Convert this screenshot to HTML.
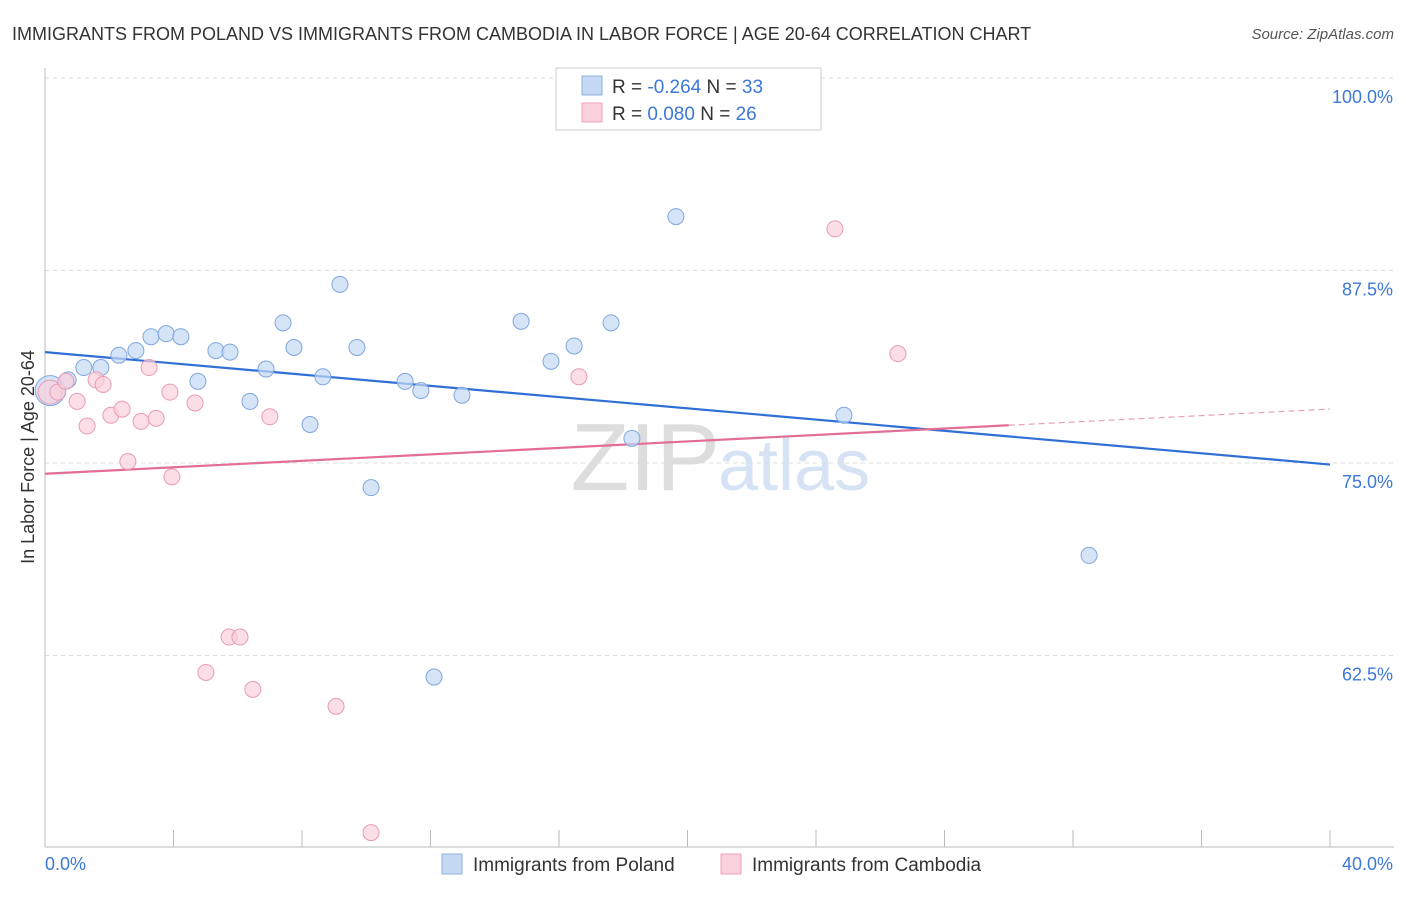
<!DOCTYPE html>
<html><head><meta charset="utf-8"><style>
body{margin:0;background:#fff;font-family:"Liberation Sans",sans-serif;}
svg text{font-family:"Liberation Sans",sans-serif;}
</style></head><body>
<svg id="chart" width="1406" height="892" viewBox="0 0 1406 892">
<text x="12" y="40" font-size="18" fill="#333">IMMIGRANTS FROM POLAND VS IMMIGRANTS FROM CAMBODIA IN LABOR FORCE | AGE 20-64 CORRELATION CHART</text>
<text x="1394" y="39" font-size="15" fill="#555" font-style="italic" text-anchor="end">Source: ZipAtlas.com</text>
<text x="720" y="490" font-size="96" fill="#ddd" text-anchor="end" font-family="Liberation Serif">ZIP</text>
<text x="718" y="490" font-size="72" fill="#d6e3f5">atlas</text>
<g id="grid"></g><g id="axes"></g><g id="lines"></g><g id="pts"></g>
<text transform="translate(34,457) rotate(-90)" font-size="18" fill="#333" text-anchor="middle">In Labor Force | Age 20-64</text>
<g>
<rect x="556" y="68" width="265" height="62" fill="#fff" stroke="#ccc"/>
<rect x="582" y="76" width="20" height="19" fill="#c5d9f5" stroke="#8fb1e3"/>
<text x="612" y="93" font-size="19" fill="#333">R = <tspan fill="#3c78d8">-0.264</tspan>   N = <tspan fill="#3c78d8">33</tspan></text>
<rect x="582" y="103" width="20" height="19" fill="#fad0dc" stroke="#eea4ba"/>
<text x="612" y="120" font-size="19" fill="#333">R =  <tspan fill="#3c78d8">0.080</tspan>   N = <tspan fill="#3c78d8">26</tspan></text>
</g>
<g>
<rect x="442" y="854" width="20" height="20" fill="#c5d9f5" stroke="#8fb1e3"/>
<text x="473" y="871" font-size="19" fill="#333">Immigrants from Poland</text>
<rect x="721" y="854" width="20" height="20" fill="#fad0dc" stroke="#eea4ba"/>
<text x="752" y="871" font-size="19" fill="#333">Immigrants from Cambodia</text>
</g>
</svg>
<script>
const polandX=[0.16,0.72,1.21,1.74,2.30,2.83,3.30,3.77,4.23,4.76,5.32,5.76,6.38,6.88,7.41,7.75,8.25,8.65,9.18,9.71,10.15,11.21,11.70,12.11,12.98,14.82,15.75,16.47,17.62,18.27,19.64,24.87,32.50];
const polandY=[79.7,80.4,81.2,81.2,82.0,82.3,83.2,83.4,83.2,80.3,82.3,82.2,79.0,81.1,84.1,82.5,77.5,80.6,86.6,82.5,73.4,80.3,79.7,61.1,79.4,84.2,81.6,82.6,84.1,76.6,91.0,78.1,69.0];
const cambX=[0.16,0.40,0.65,1.0,1.31,1.59,1.81,2.05,2.40,2.58,2.99,3.24,3.46,3.89,3.95,4.67,5.01,5.73,6.07,6.47,7.00,9.06,10.15,16.62,24.59,26.55];
const cambY=[79.6,79.6,80.3,79.0,77.4,80.4,80.1,78.1,78.5,75.1,77.7,81.2,77.9,79.6,74.1,78.9,61.4,63.7,63.7,60.3,78.0,59.2,51.0,80.6,90.2,82.1];
const yTicks=[100,87.5,75,62.5];
const yTickLabels=["100.0%","87.5%","75.0%","62.5%"];
const xTicks=[0,4,8,12,16,20,24,28,32,36,40];
const polandFit=[82.2,74.9];
const cambFit=[74.3,78.5];
const cambSolidEnd=30.0;
const X=v=>45+v/40*1285, Y=v=>78+(100-v)*15.4;
const NS="http://www.w3.org/2000/svg";
function mk(tag,attrs,parent){const e=document.createElementNS(NS,tag);for(const k in attrs)e.setAttribute(k,attrs[k]);document.getElementById(parent).appendChild(e);return e;}
yTicks.forEach((t,i)=>{
 const g=mk('line',{x1:45,x2:1394,y1:Y(t),y2:Y(t),stroke:'#ddd','stroke-dasharray':'4,4'},'grid');
 
 
 const l=mk('text',{x:1393,y:Y(t)+25,'font-size':18,fill:'#3c78d8','text-anchor':'end'},'grid');l.textContent=yTickLabels[i];
 
 
});
mk('line',{x1:45,x2:45,y1:68,y2:847,stroke:'#bbb'},'axes');
mk('line',{x1:45,x2:1394,y1:847,y2:847,stroke:'#bbb'},'axes');
xTicks.forEach(t=>{const e=mk('line',{x1:X(t),x2:X(t),y1:830,y2:847,stroke:'#bbb'},'axes');
 
 });
let a=mk('text',{x:45,y:870,'font-size':18,fill:'#3c78d8'},'axes');a.textContent=xTicks[0].toFixed(1)+'%';


a=mk('text',{x:1393,y:870,'font-size':18,fill:'#3c78d8','text-anchor':'end'},'axes');a.textContent=xTicks[xTicks.length-1].toFixed(1)+'%';


let ln=mk('line',{x1:X(0),y1:Y(polandFit[0]),x2:X(40),y2:Y(polandFit[1]),stroke:'#2f6fd6','stroke-width':2.2},'lines');


const cy=x=>cambFit[0]+(cambFit[1]-cambFit[0])*x/40;
ln=mk('line',{x1:X(0),y1:Y(cy(0)),x2:X(cambSolidEnd),y2:Y(cy(cambSolidEnd)),stroke:'#e46d96','stroke-width':2.2},'lines');


ln=mk('line',{x1:X(cambSolidEnd),y1:Y(cy(cambSolidEnd)),x2:X(40),y2:Y(cy(40)),stroke:'#e9a0b8','stroke-width':1.2,'stroke-dasharray':'6,4'},'lines');


polandX.forEach((x,i)=>{const c=mk('circle',{cx:X(x),cy:Y(polandY[i]),r:i==0?15:8,fill:'#c5d9f5','fill-opacity':0.7,stroke:'#7fa6de','stroke-width':1},'pts');
 
 });
cambX.forEach((x,i)=>{const c=mk('circle',{cx:X(x),cy:Y(cambY[i]),r:i==0?12:8,fill:'#fad0dc','fill-opacity':0.7,stroke:'#e99bb4','stroke-width':1},'pts');
 
 });
</script>
</body></html>
